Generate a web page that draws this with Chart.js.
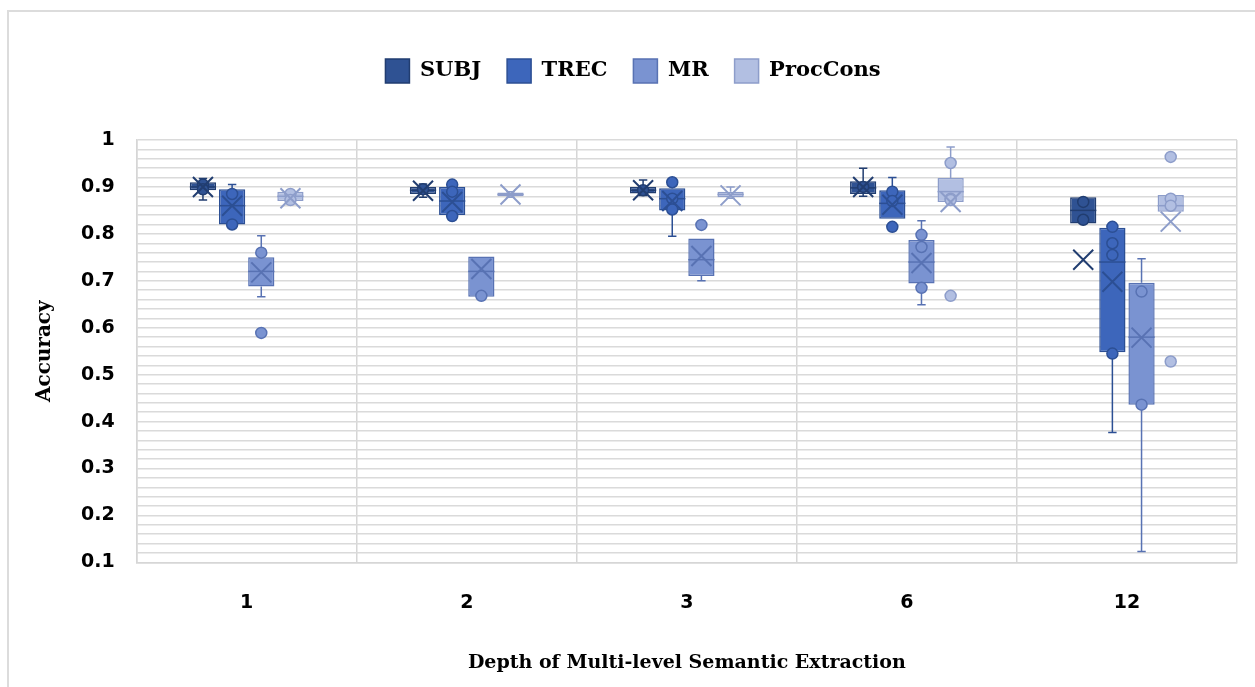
<!DOCTYPE html>
<html>
<head>
<meta charset="utf-8">
<script src="https://cdn.jsdelivr.net/npm/chart.js@4"></script>
<style>
    html, body { margin: 0; padding: 0; background: #fff; }
    #wrap { position: relative; width: 1255px; height: 687px; overflow: hidden; }
    #frame { position: absolute; left: 7px; top: 10px; width: 1300px; height: 720px; border: 2px solid #dcdcdc; }
    #chart { position: absolute; left: 0; top: 0; }
</style>
</head>
<body>
<div id="wrap">
    <div id="frame"></div>
    <canvas id="chart" width="1255" height="687"></canvas>
</div>
<script>
// depth levels on the x axis
const depths = ['1', '2', '3', '6', '12'];
const seriesNames = ['SUBJ', 'TREC', 'MR', 'ProcCons'];

// box stats per depth: [min, q1, median, q3, max]
const subjBox = [[0.872, 0.893, 0.900, 0.910, 0.918], [0.878, 0.885, 0.893, 0.900, 0.906], [0.882, 0.886, 0.893, 0.900, 0.915], [0.880, 0.885, 0.898, 0.912, 0.940], [0.822, 0.822, 0.850, 0.878, 0.878]];
const trecBox = [[0.815, 0.820, 0.860, 0.895, 0.905], [0.835, 0.840, 0.870, 0.900, 0.908], [0.795, 0.850, 0.875, 0.897, 0.910], [0.832, 0.832, 0.865, 0.893, 0.920], [0.377, 0.548, 0.740, 0.813, 0.813]];
const mrBox = [[0.666, 0.688, 0.720, 0.750, 0.796], [0.666, 0.666, 0.720, 0.752, 0.752], [0.700, 0.710, 0.745, 0.790, 0.790], [0.649, 0.694, 0.740, 0.787, 0.828], [0.123, 0.436, 0.580, 0.696, 0.747]];
const procBox = [[0.865, 0.870, 0.880, 0.890, 0.892], [0.878, 0.880, 0.884, 0.888, 0.890], [0.876, 0.878, 0.884, 0.890, 0.900], [0.868, 0.868, 0.890, 0.919, 0.985], [0.847, 0.847, 0.860, 0.883, 0.883]];

// mean markers (x)
const subjMean = [0.900, 0.892, 0.893, 0.900, 0.745];
const trecMean = [0.860, 0.868, 0.870, 0.862, 0.698];
const mrMean = [0.718, 0.725, 0.753, 0.738, 0.579];
const procMean = [0.876, 0.884, 0.882, 0.868, 0.826];

// individual points (inner points and outliers)
const subjPoints = [[0.905, 0.895], [0.895], [0.893], [0.900], [0.868, 0.830]];
const trecPoints = [[0.885, 0.820], [0.905, 0.890, 0.838], [0.910, 0.875, 0.852], [0.890, 0.870, 0.815], [0.815, 0.780, 0.755, 0.545]];
const mrPoints = [[0.760, 0.589], [0.668], [0.819], [0.798, 0.772, 0.685], [0.677, 0.436]];
const procPoints = [[0.885, 0.872], [], [], [0.951, 0.875, 0.872, 0.668], [0.964, 0.875, 0.860, 0.528]];

const fills = ['#2f5293', '#3d66bb', '#7a93d1', '#b2bfe2'];
const edges = ['#213d70', '#2c4f94', '#5872b3', '#8d9dca'];

const boxes = [subjBox, trecBox, mrBox, procBox];
const means = [subjMean, trecMean, mrMean, procMean];
const points = [subjPoints, trecPoints, mrPoints, procPoints];

// extra room under the legend
const legendGap = {
    id: 'legendGap',
    beforeInit(chart) {
        const fit = chart.legend.fit;
        chart.legend.fit = function () {
            fit.bind(chart.legend)();
            this.height += 47;
        };
    }
};

// draws whiskers, medians, means and points on top of the floating bars
const boxPlotExtras = {
    id: 'boxPlotExtras',
    afterDatasetsDraw(chart) {
        const ctx = chart.ctx;
        const y = chart.scales.y;
        chart.data.datasets.forEach((ds, i) => {
            const meta = chart.getDatasetMeta(i);
            meta.data.forEach((bar, j) => {
                const [mn, q1, md, q3, mx] = boxes[i][j];
                const x = bar.x;
                const w = bar.width;
                ctx.save();
                ctx.strokeStyle = edges[i];
                ctx.lineWidth = 1.5;
                // whiskers
                const cap = w * 0.16;
                if (mx > q3) {
                    ctx.beginPath();
                    ctx.moveTo(x, y.getPixelForValue(q3));
                    ctx.lineTo(x, y.getPixelForValue(mx));
                    ctx.moveTo(x - cap, y.getPixelForValue(mx));
                    ctx.lineTo(x + cap, y.getPixelForValue(mx));
                    ctx.stroke();
                }
                if (mn < q1) {
                    ctx.beginPath();
                    ctx.moveTo(x, y.getPixelForValue(q1));
                    ctx.lineTo(x, y.getPixelForValue(mn));
                    ctx.moveTo(x - cap, y.getPixelForValue(mn));
                    ctx.lineTo(x + cap, y.getPixelForValue(mn));
                    ctx.stroke();
                }
                // median
                ctx.beginPath();
                ctx.moveTo(x - w / 2, y.getPixelForValue(md));
                ctx.lineTo(x + w / 2, y.getPixelForValue(md));
                ctx.stroke();
                // points
                points[i][j].forEach(v => {
                    ctx.beginPath();
                    ctx.arc(x, y.getPixelForValue(v), 5.5, 0, Math.PI * 2);
                    ctx.fillStyle = fills[i];
                    ctx.fill();
                    ctx.stroke();
                });
                // mean X
                const my = y.getPixelForValue(means[i][j]);
                const s = 10;
                ctx.lineWidth = 2;
                ctx.beginPath();
                ctx.moveTo(x - s, my - s);
                ctx.lineTo(x + s, my + s);
                ctx.moveTo(x + s, my - s);
                ctx.lineTo(x - s, my + s);
                ctx.stroke();
                ctx.restore();
            });
        });
    }
};

const datasets = seriesNames.map((name, i) => ({
    label: name,
    data: boxes[i].map(b => [b[1], b[3]]),
    backgroundColor: fills[i],
    borderColor: edges[i],
    borderWidth: 1.5,
    borderSkipped: false,
    categoryPercentage: 0.53,
    barPercentage: 0.9
}));

new Chart(document.getElementById('chart'), {
    type: 'bar',
    data: { labels: depths, datasets: datasets },
    plugins: [legendGap, boxPlotExtras],
    options: {
        responsive: false,
        animation: false,
        layout: { padding: { top: 33, left: 29, right: 18, bottom: 13 } },
        plugins: {
            tooltip: { enabled: false },
            legend: {
                position: 'top',
                labels: {
                    boxWidth: 24,
                    boxHeight: 24,
                    padding: 26,
                    color: '#000',
                    font: { family: 'DejaVu Serif', size: 21, weight: 'bold' }
                }
            }
        },
        scales: {
            x: {
                grid: { color: '#d6d6d6', lineWidth: 1.5, drawTicks: false },
                border: { color: '#d6d6d6', width: 1.5 },
                ticks: { color: '#000', padding: 29, font: { family: 'DejaVu Sans', size: 19, weight: 'bold' } },
                title: {
                    display: true,
                    text: 'Depth of Multi-level Semantic Extraction',
                    color: '#000',
                    padding: { top: 8, bottom: 0 },
                    font: { family: 'DejaVu Serif', size: 19, weight: 'bold' }
                }
            },
            y: {
                min: 0.1,
                max: 1,
                grid: { color: '#dadada', lineWidth: 1.5, drawTicks: false },
                border: { color: '#d6d6d6', width: 1.5 },
                ticks: {
                    stepSize: 0.02,
                    autoSkip: false,
                    color: '#000',
                    padding: 22,
                    font: { family: 'DejaVu Sans', size: 19, weight: 'bold' },
                    callback: v => {
                        const k = Math.round(v * 100);
                        return k % 10 === 0 ? String(k / 100) : '';
                    }
                },
                title: {
                    display: true,
                    text: 'Accuracy',
                    color: '#000',
                    padding: { top: 4, bottom: 2 },
                    font: { family: 'DejaVu Serif', size: 20, weight: 'bold' }
                }
            }
        }
    }
});
</script>
</body>
</html>
